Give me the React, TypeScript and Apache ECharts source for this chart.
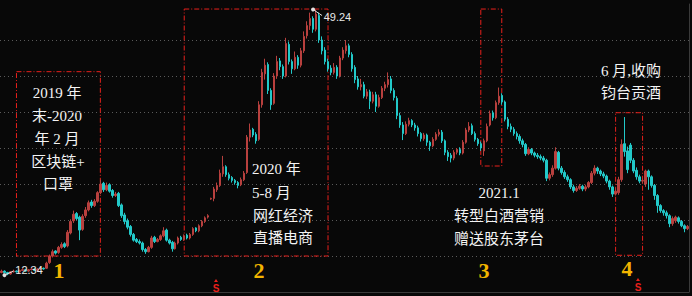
import React, { useEffect, useRef } from "react";
import * as echarts from "echarts";

const opens = [
  12.7, 12.9, 12.7, 12.5, 12.8, 12.9, 12.8, 13.0, 13.1, 12.9, 13.1, 13.2, 13.0, 13.2, 13.3,
  13.3, 14.1, 15.0, 15.7, 15.5, 16.2, 16.7, 16.4, 18.2, 19.9, 20.9, 20.4, 18.7, 20.6, 21.4,
  22.5, 22.0, 22.6, 23.8, 25.1, 24.2, 24.9, 24.1, 23.4, 23.7, 22.1, 20.7, 19.9, 19.1, 18.0,
  17.3, 17.0, 16.8, 15.9, 15.6, 16.2, 17.6, 17.0, 17.3, 17.8, 18.6, 17.2, 16.9, 16.0, 16.8,
  17.6, 17.3, 17.9, 17.5, 18.0, 18.9, 18.5, 19.2, 19.8, 20.4, 22.9, 23.0, 24.2, 24.8, 26.4,
  27.4, 26.3, 25.9, 25.5, 25.2, 24.9, 25.6, 26.6, 31.5, 32.6, 31.9, 31.2, 36.0, 40.3, 41.6,
  38.0, 36.2, 40.0, 42.1, 41.3, 40.0, 44.4, 42.0, 41.0, 42.6, 41.5, 43.5, 45.6, 47.0, 48.0,
  46.5, 48.4, 45.0, 43.6, 42.0, 41.1, 40.5, 41.2, 40.0, 42.5, 43.5, 44.2, 43.0, 41.2, 39.6,
  38.5, 38.8, 37.2, 37.8, 36.5, 37.4, 35.8, 37.0, 38.3, 38.8, 39.6, 38.0, 36.9, 34.5, 33.2,
  32.0, 33.3, 33.8, 33.2, 32.8, 32.0, 31.3, 31.8, 30.8, 30.3, 31.2, 31.9, 32.2, 31.0, 29.4,
  29.0, 28.6, 29.4, 29.8, 29.3, 30.8, 32.5, 33.1, 32.0, 31.2, 30.6, 29.6, 31.0, 33.2, 34.9,
  34.2, 36.3, 37.3, 36.4, 34.0, 33.0, 32.6, 32.0, 31.6, 31.0, 30.5, 29.2, 29.8, 29.3, 29.0,
  28.8, 28.6, 28.3, 25.8, 26.3, 27.2, 29.4, 27.2, 26.6, 26.0, 25.6, 24.6, 24.1, 24.4, 24.7,
  24.3, 24.6, 25.2, 26.5, 27.2, 26.8, 26.4, 26.1, 25.4, 24.6, 23.6, 23.8, 25.6, 30.6, 29.6,
  30.4, 28.3, 26.9, 26.0, 25.4, 25.0, 26.8, 26.0, 24.8, 23.4, 22.0, 21.3, 21.0, 20.6, 19.5,
  19.9, 20.3, 19.8, 19.2, 18.8,
];
const closes = [
  12.9, 12.7, 12.5, 12.8, 12.9, 12.8, 13.0, 13.1, 12.9, 13.1, 13.2, 13.0, 13.2, 13.3, 13.2,
  14.0, 15.0, 15.6, 15.4, 16.2, 16.6, 16.3, 18.3, 19.8, 20.8, 20.2, 18.6, 20.5, 21.4, 22.4,
  22.0, 22.6, 23.8, 25.0, 24.2, 24.8, 24.0, 23.4, 23.6, 22.0, 20.6, 19.8, 19.0, 18.0, 17.2,
  17.0, 16.8, 15.9, 15.6, 16.2, 17.5, 17.0, 17.3, 17.8, 18.5, 17.2, 16.8, 16.0, 16.8, 17.5,
  17.3, 17.8, 17.5, 18.0, 18.8, 18.5, 19.2, 19.8, 20.3, 20.6, 23.0, 24.3, 24.8, 26.5, 27.4,
  26.3, 25.8, 25.5, 25.2, 24.8, 25.6, 26.5, 31.5, 32.5, 31.8, 31.0, 36.0, 40.5, 41.5, 38.0,
  36.0, 40.0, 42.0, 41.3, 40.0, 44.5, 42.0, 41.0, 42.6, 41.5, 43.5, 45.5, 47.0, 48.0, 46.5,
  48.6, 45.0, 43.5, 42.0, 41.0, 40.5, 41.2, 40.0, 42.5, 43.6, 44.2, 43.0, 41.0, 39.5, 38.5,
  38.8, 37.2, 37.8, 36.5, 37.4, 35.8, 37.0, 38.3, 38.8, 39.5, 38.0, 37.0, 34.5, 33.2, 32.0,
  33.3, 33.8, 33.2, 32.8, 32.0, 31.3, 31.8, 30.8, 30.3, 31.2, 31.9, 32.2, 31.0, 29.4, 28.8,
  28.6, 29.4, 29.8, 29.3, 30.8, 32.5, 33.0, 32.0, 31.2, 30.6, 30.0, 31.0, 33.0, 34.8, 34.2,
  36.3, 37.2, 36.4, 34.0, 33.0, 32.6, 32.0, 31.6, 31.0, 30.5, 29.2, 29.8, 29.3, 29.0, 28.8,
  28.6, 28.3, 25.8, 26.3, 27.2, 29.5, 27.2, 26.6, 26.0, 25.6, 24.6, 24.1, 24.4, 24.7, 24.3,
  24.6, 25.2, 26.5, 27.2, 26.8, 26.4, 26.1, 25.4, 24.6, 23.6, 24.0, 25.6, 30.5, 29.5, 27.0,
  28.3, 26.8, 26.0, 25.4, 25.5, 26.8, 26.0, 24.8, 23.4, 22.0, 21.3, 21.0, 20.6, 19.5, 20.2,
  20.4, 19.8, 19.2, 18.8, 19.1,
];
const lows = [
  12.6, 12.6, 12.34, 12.4, 12.7, 12.7, 12.7, 12.9, 12.8, 12.8, 13.0, 12.9, 12.9, 13.1, 13.1,
  13.2, 13.9, 14.8, 15.2, 15.3, 16.0, 16.1, 16.2, 18.0, 19.6, 20.0, 17.2, 18.5, 20.3, 21.2,
  21.7, 21.8, 22.4, 23.6, 23.9, 24.0, 23.8, 23.1, 23.2, 21.8, 20.3, 19.4, 18.7, 17.7, 17.0,
  16.8, 16.6, 15.6, 15.3, 15.5, 16.0, 16.8, 16.9, 17.1, 17.6, 17.0, 16.6, 15.6, 15.9, 16.6,
  17.1, 17.1, 17.3, 17.3, 17.8, 18.3, 18.3, 19.0, 19.6, 20.2, 22.8, 22.6, 23.9, 24.6, 26.0,
  26.0, 25.5, 25.2, 24.9, 24.4, 24.7, 25.4, 26.4, 30.9, 31.5, 30.6, 31.0, 35.6, 39.5, 37.5,
  35.3, 36.0, 39.6, 40.8, 39.6, 39.8, 41.6, 40.3, 40.8, 41.0, 41.2, 43.2, 45.2, 46.4, 46.0,
  46.2, 44.6, 43.0, 41.6, 40.6, 40.1, 40.2, 39.6, 39.8, 42.2, 43.1, 42.6, 40.6, 39.0, 38.1,
  38.0, 36.9, 36.8, 35.4, 36.2, 35.0, 35.6, 36.8, 37.9, 38.4, 37.6, 36.6, 34.0, 32.8, 31.1,
  31.8, 33.0, 32.9, 32.4, 31.6, 30.9, 31.0, 30.3, 29.6, 30.1, 31.0, 31.6, 30.7, 29.0, 28.2,
  28.0, 28.3, 29.1, 29.0, 29.1, 30.6, 32.2, 31.8, 30.9, 30.3, 29.6, 28.9, 30.8, 33.0, 33.8,
  34.0, 36.0, 36.0, 33.7, 32.6, 32.2, 31.7, 31.2, 30.6, 30.1, 28.9, 29.0, 29.0, 28.7, 28.5,
  28.3, 28.0, 25.4, 25.5, 26.0, 27.0, 26.9, 26.3, 25.7, 25.3, 24.3, 23.8, 23.9, 24.2, 24.0,
  24.0, 24.4, 25.0, 26.2, 26.4, 26.1, 25.8, 25.1, 24.2, 23.2, 23.4, 23.5, 25.3, 28.8, 26.5,
  27.9, 26.5, 25.6, 25.1, 25.1, 24.6, 24.2, 24.5, 22.8, 21.0, 21.0, 20.6, 20.2, 19.0, 19.2,
  19.6, 19.5, 19.0, 18.3, 18.6,
];
const highs = [
  13.1, 13.0, 12.8, 12.9, 13.1, 13.0, 13.1, 13.3, 13.2, 13.2, 13.4, 13.3, 13.3, 13.5, 13.4,
  14.2, 15.2, 15.9, 15.8, 16.4, 16.9, 16.9, 18.6, 20.1, 21.3, 21.1, 20.6, 20.8, 21.8, 22.7,
  22.8, 22.9, 24.0, 25.6, 25.3, 25.2, 25.1, 24.3, 23.9, 23.9, 22.3, 21.0, 20.2, 19.3, 18.2,
  17.5, 17.3, 17.0, 16.1, 16.4, 17.8, 17.8, 17.5, 18.0, 19.0, 18.8, 17.4, 17.1, 17.0, 17.7,
  17.8, 18.0, 18.1, 18.2, 19.0, 19.0, 19.4, 20.0, 20.5, 20.8, 23.1, 24.6, 25.2, 27.0, 28.9,
  27.6, 26.6, 26.1, 25.7, 25.4, 25.9, 26.8, 31.8, 33.4, 32.8, 32.2, 36.5, 41.0, 42.4, 41.9,
  38.3, 40.4, 42.8, 42.5, 41.6, 45.3, 44.8, 42.3, 43.4, 42.9, 43.9, 46.2, 47.6, 48.8, 48.3,
  49.24, 48.8, 45.5, 44.0, 42.4, 41.5, 41.8, 41.5, 42.8, 44.0, 45.0, 44.5, 43.3, 41.5, 40.0,
  39.6, 39.2, 38.2, 38.1, 37.8, 37.8, 37.4, 38.6, 39.2, 40.5, 40.0, 38.3, 37.2, 34.9, 33.6,
  33.7, 34.2, 34.0, 33.5, 33.1, 32.2, 32.1, 32.0, 31.0, 31.5, 32.2, 32.6, 32.5, 31.2, 29.7,
  29.3, 29.7, 30.0, 30.1, 31.1, 32.8, 33.6, 33.4, 32.3, 31.4, 30.9, 31.3, 33.4, 35.2, 35.2,
  36.6, 38.4, 37.6, 36.6, 34.3, 33.4, 32.9, 32.3, 31.9, 31.3, 30.7, 30.1, 30.0, 29.5, 29.3,
  29.1, 28.9, 28.5, 26.6, 27.6, 30.1, 29.6, 27.5, 26.9, 26.3, 25.8, 24.9, 24.7, 25.0, 24.9,
  24.9, 25.4, 26.8, 27.6, 27.4, 27.0, 26.7, 26.3, 25.6, 24.8, 24.4, 26.0, 31.2, 34.3, 30.2,
  30.7, 28.6, 27.3, 26.3, 25.9, 27.0, 27.0, 26.2, 25.0, 23.6, 22.2, 21.5, 21.3, 20.8, 20.5,
  20.6, 20.5, 20.0, 19.4, 19.3,
];
const categories = closes.map((_, i) => String(i + 1));
const priceTicks = { min: 10, max: 50, interval: 5 };
const maxLabel = "49.24";
const minLabel = "12.34";

const boxes = [
  { x0: 5, x1: 33, y0: 15, y1: 40.6 },
  { x0: 61, x1: 109, y0: 15, y1: 49.3 },
  { x0: 160, x1: 167, y0: 27.5, y1: 49.3 },
  { x0: 205, x1: 214, y0: 15.1, y1: 34.9 },
];

const RED = "#e8201c";
const GOLD = "#f2b400";
const CN = '"Liberation Serif", "Noto Sans CJK SC", serif';

function txt(text: string, x: number, y: number, align = "center", font = `15px ${CN}`, fill = "#f4f4f4") {
  return { type: "text", x, y, silent: true, style: { text, fill, font, align, verticalAlign: "middle" } };
}

export default function App() {
  const ref = useRef<HTMLDivElement>(null);
  useEffect(() => {
    if (!ref.current) return;
    const chart = echarts.init(ref.current, undefined, { renderer: "svg" });
    const data = closes.map((c, i) => [opens[i], c, lows[i], highs[i]]);
    chart.setOption({
      animation: false,
      backgroundColor: "#080808",
      grid: { left: 0, top: 4, width: 689, height: 288 },
      xAxis: {
        type: "category",
        data: categories,
        boundaryGap: true,
        axisLine: { show: true, lineStyle: { color: "#3a3a3a" } },
        axisTick: { show: false },
        axisLabel: { show: false },
        splitLine: { show: false },
      },
      yAxis: {
        type: "value",
        position: "right",
        min: priceTicks.min,
        max: priceTicks.max,
        interval: priceTicks.interval,
        axisLine: { show: true, lineStyle: { color: "#3a3a3a" } },
        axisTick: { show: false },
        axisLabel: { show: false },
        splitLine: {
          show: true,
          showMinLine: false,
          showMaxLine: false,
          lineStyle: { color: "#5a5a5a", type: [1, 3], width: 1 },
        },
      },
      series: [
        {
          type: "candlestick",
          data,
          barWidth: 2,
          itemStyle: {
            color: "#b8403e",
            color0: "#22c9c9",
            borderColor: "#b8403e",
            borderColor0: "#22c9c9",
            borderWidth: 1,
          },
          markArea: {
            silent: true,
            itemStyle: { color: "transparent", borderColor: RED, borderWidth: 1, borderType: [5, 2, 1, 2] },
            data: boxes.map((b) => [
              { xAxis: b.x0, yAxis: b.y1 },
              { xAxis: b.x1, yAxis: b.y0 },
            ]),
          },
          markLine: {
            silent: true,
            symbol: ["circle", "none"],
            symbolSize: 4,
            lineStyle: { color: "#e0e0e0", type: "solid", width: 1 },
            label: { show: true, position: "end", color: "#e8e8e8", fontSize: 11, fontFamily: "Liberation Sans", distance: 2 },
            data: [
              [
                { coord: [104, 49.24], itemStyle: { color: "#ffffff" } },
                { coord: [107, 48.4], label: { formatter: maxLabel } },
              ],
              [
                { coord: [1, 12.34], itemStyle: { color: "#ffffff" } },
                { coord: [4, 12.9], label: { formatter: minLabel } },
              ],
            ],
          },
        },
      ],
      graphic: [
        txt("2019 年", 57, 93),
        txt("末-2020", 57, 116),
        txt("年 2 月", 57, 139),
        txt("区块链+", 58, 162),
        txt("口罩", 58, 184),
        txt("2020 年", 252, 169, "left"),
        txt("5-8 月", 252, 193, "left"),
        txt("网红经济", 253, 216, "left"),
        txt("直播电商", 253, 238, "left"),
        txt("2021.1", 499, 193),
        txt("转型白酒营销", 499, 216),
        txt("赠送股东茅台", 499, 239),
        txt("6 月,收购", 631, 71),
        txt("钧台贡酒", 631, 93),
        txt("1", 59, 270, "center", `bold 22px "Liberation Serif", serif`, GOLD),
        txt("2", 259, 270, "center", `bold 22px "Liberation Serif", serif`, GOLD),
        txt("3", 484, 270, "center", `bold 22px "Liberation Serif", serif`, GOLD),
        txt("4", 627, 268, "center", `bold 22px "Liberation Serif", serif`, GOLD),
        txt("S", 216, 288, "center", `bold 10px "Liberation Sans", sans-serif`, RED),
        txt("S", 638, 287, "center", `bold 10px "Liberation Sans", sans-serif`, RED),
        { type: "polygon", silent: true, shape: { points: [[214, 282], [218, 282], [216, 279]] }, style: { fill: RED } },
        { type: "polygon", silent: true, shape: { points: [[636, 281], [640, 281], [638, 278]] }, style: { fill: RED } },
      ],
    });
    return () => chart.dispose();
  }, []);
  return (
    <div
      ref={ref}
      style={{ position: "absolute", left: 0, top: 0, width: 692, height: 296, background: "#080808" }}
    />
  );
}
